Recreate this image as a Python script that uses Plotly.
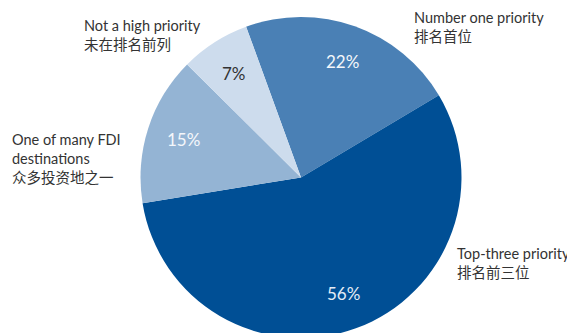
import math
import plotly.graph_objects as go

labels = ["Number one priority", "Top-three priority", "One of many FDI destinations", "Not a high priority"]
values = [22, 56, 15, 7]
pct_text = ["22%", "56%", "15%", "7%"]
colors = ["#4a80b5", "#004f95", "#94b4d4", "#cddced"]
text_colors = ["#f4f7fb", "#e4ecf5", "#f4f7fb", "#333333"]

label_texts = [
    "Number one priority<br>排名首位",
    "Top-three priority<br>排名前三位",
    "One of many FDI<br>destinations<br>众多投资地之一",
    "Not a high priority<br>未在排名前列",
]

FONT = "Lato, Noto Sans CJK SC, sans-serif"
W, H = 575, 330
T, B = 9, 0
OFF = 8  # page body margin
ROT = -20

# pie geometry (figure pixels)
cx_view = 301
dom_x = [(cx_view - OFF) / W - 0.31, (cx_view - OFF) / W + 0.31]
R = (H - T - B) / 2
cx = (dom_x[0] + dom_x[1]) / 2 * W
cy = T + R

def to_paper(xf, yf):
    return xf / W, 1 - (yf - T) / (H - T - B)

fig = go.Figure(go.Pie(
    labels=labels,
    values=values,
    textinfo="none",
    marker=dict(colors=colors, line=dict(width=0)),
    sort=False,
    direction="clockwise",
    rotation=ROT,
    domain=dict(x=dom_x, y=[0, 1]),
    showlegend=False,
    hoverinfo="label+percent",
))

# percentage labels inside slices, placed at slice mid-angle
total = sum(values)
cum = 0
for v, t, c in zip(values, pct_text, text_colors):
    mid = math.radians(ROT + (cum + v / 2) / total * 360)
    cum += v
    rr = 0.77 * R
    xf = cx + rr * math.sin(mid)
    yf = cy - rr * math.cos(mid)
    px, py = to_paper(xf, yf)
    fig.add_annotation(text=t, x=px, y=py, xref="paper", yref="paper",
                       xanchor="center", yanchor="middle", showarrow=False,
                       font=dict(family=FONT, size=17, color=c))

# outside category labels: (left x, first-line centre y) in the viewport
label_view = [(414, 18), (457, 254), (12, 140), (84, 27)]
for t, (xv, yv) in zip(label_texts, label_view):
    xf = xv - OFF - 2
    yf = yv - OFF - 11.5
    px, py = to_paper(xf, yf)
    fig.add_annotation(
        text=t, x=px, y=py, xref="paper", yref="paper",
        xanchor="left", yanchor="top", align="left", showarrow=False,
        font=dict(family=FONT, size=14.5, color="#333333"),
    )

fig.update_layout(
    width=W, height=H,
    margin=dict(l=0, r=0, t=T, b=B),
    paper_bgcolor="white",
    plot_bgcolor="white",
)

fig.write_html("out.html")
